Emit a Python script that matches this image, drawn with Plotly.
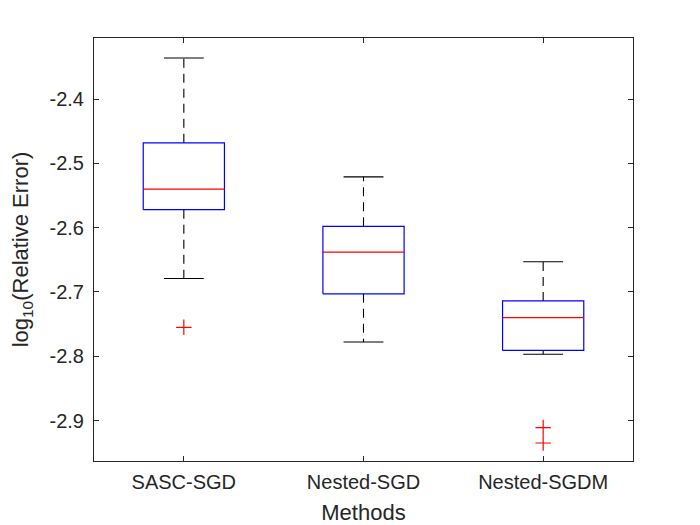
"""
box plot of log10 relative error for the three methods
"""
import plotly.graph_objects as go

methods = ['SASC-SGD', 'Nested-SGD', 'Nested-SGDM']
upper_whisker = [-2.336, -2.521, -2.653]
q3 = [-2.468, -2.598, -2.714]
median = [-2.540, -2.638, -2.740]
q1 = [-2.572, -2.703, -2.791]
lower_whisker = [-2.679, -2.778, -2.797]

# outliers (method index starting at 1, value)
outlier_pos = [1, 3, 3]
outlier_val = [-2.755, -2.911, -2.935]

ytick_vals = [-2.9, -2.8, -2.7, -2.6, -2.5, -2.4]
ytick_text = ['-2.9', '-2.8', '-2.7', '-2.6', '-2.5', '-2.4']

half_box = 0.226
half_cap = 0.111
font_color = '#262626'

fig = go.Figure()

for i, name in enumerate(methods):
    p = i + 1
    # upper and lower whiskers (dashed)
    fig.add_trace(go.Scatter(x = [p, p], y = [q3[i], upper_whisker[i]],
                             mode = 'lines', showlegend = False, hoverinfo = 'skip',
                             line = dict(color = 'black', width = 1.1, dash = '9px,6px')))
    fig.add_trace(go.Scatter(x = [p, p], y = [q1[i], lower_whisker[i]],
                             mode = 'lines', showlegend = False, hoverinfo = 'skip',
                             line = dict(color = 'black', width = 1.1, dash = '9px,6px')))
    # caps
    fig.add_trace(go.Scatter(x = [p - half_cap, p + half_cap], y = [upper_whisker[i]] * 2,
                             mode = 'lines', showlegend = False, hoverinfo = 'skip',
                             line = dict(color = 'black', width = 1.1)))
    fig.add_trace(go.Scatter(x = [p - half_cap, p + half_cap], y = [lower_whisker[i]] * 2,
                             mode = 'lines', showlegend = False, hoverinfo = 'skip',
                             line = dict(color = 'black', width = 1.1)))
    # box
    fig.add_trace(go.Scatter(x = [p - half_box, p + half_box, p + half_box, p - half_box, p - half_box],
                             y = [q1[i], q1[i], q3[i], q3[i], q1[i]],
                             mode = 'lines', showlegend = False, name = name,
                             line = dict(color = 'rgb(0, 0, 255)', width = 1.2)))
    # median
    fig.add_trace(go.Scatter(x = [p - half_box, p + half_box], y = [median[i]] * 2,
                             mode = 'lines', showlegend = False, hoverinfo = 'skip',
                             line = dict(color = 'rgb(255, 0, 0)', width = 1.2)))

fig.add_trace(go.Scatter(x = outlier_pos, y = outlier_val,
                         mode = 'markers', showlegend = False,
                         marker = dict(symbol = 'cross-thin', size = 11,
                                       line = dict(color = 'rgb(255, 0, 0)', width = 1.2))))

# page has an 8px body margin, so margins are shifted to keep the axes in place
fig.update_layout(
    autosize = False,
    width = 700,
    height = 525,
    margin = dict(l = 83, r = 75, t = 30, b = 72),
    template = 'plotly_white',
    plot_bgcolor = 'white',
    paper_bgcolor = 'white',
    font = dict(family = 'Liberation Sans, Arial', size = 20, color = font_color))

fig.update_xaxes(range = [0.5, 3.5], tickvals = [1, 2, 3], ticktext = methods,
                 title_text = 'Methods', title_font = dict(size = 22), title_standoff = 12,
                 ticklabelstandoff = 3,
                 showgrid = False, zeroline = False, showline = True, mirror = 'ticks',
                 linewidth = 1, linecolor = font_color, ticks = 'inside',
                 tickwidth = 1, tickcolor = font_color, ticklen = 5)
fig.update_yaxes(range = [-2.963, -2.305], tickvals = ytick_vals, ticktext = ytick_text,
                 title_text = 'log<sub>10</sub>(Relative Error)', title_font = dict(size = 22),
                 title_standoff = 14, ticklabelstandoff = 5,
                 showgrid = False, zeroline = False, showline = True, mirror = 'ticks',
                 linewidth = 1, linecolor = font_color, ticks = 'inside',
                 tickwidth = 1, tickcolor = font_color, ticklen = 5)

fig.write_html("out.html")
